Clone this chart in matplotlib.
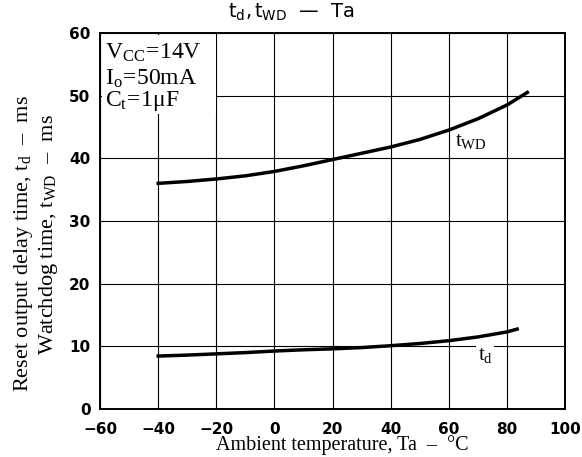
import matplotlib
matplotlib.use('Agg')
import matplotlib.pyplot as plt
from matplotlib.patches import Rectangle

plt.rcParams['mathtext.fontset'] = 'custom'
plt.rcParams['mathtext.rm'] = 'Liberation Serif'
plt.rcParams['mathtext.it'] = 'Liberation Serif:italic'
plt.rcParams['mathtext.sf'] = 'DejaVu Sans'

# curve data
ta_wd = [-40, -30, -20, -10, 0, 10, 20, 30, 40, 50, 60, 70, 80, 87]
t_wd = [36.0, 36.3, 36.7, 37.2, 37.9, 38.8, 39.8, 40.8, 41.8, 43.0, 44.5, 46.3, 48.5, 50.5]

ta_d = [-40, -30, -20, -10, 0, 10, 20, 30, 40, 50, 60, 70, 80, 83.5]
t_d = [8.45, 8.6, 8.8, 9.0, 9.25, 9.45, 9.6, 9.8, 10.1, 10.45, 10.9, 11.5, 12.3, 12.75]

xticks = [-60, -40, -20, 0, 20, 40, 60, 80, 100]
yticks = [0, 10, 20, 30, 40, 50, 60]

fig = plt.figure(figsize=(5.82, 4.57), dpi=100)
ax = fig.add_axes([0.172, 0.105, 0.799, 0.823])

ax.set_xlim(-60, 100)
ax.set_ylim(0, 60)
ax.set_xticks(xticks)
ax.set_yticks(yticks)
ax.tick_params(axis='x', length=0, pad=9)
ax.tick_params(axis='y', length=0, pad=7)
for lab in ax.get_xticklabels() + ax.get_yticklabels():
    lab.set_fontsize(11)
    lab.set_fontweight('bold')
    lab.set_family('DejaVu Sans')
ax.grid(True, color='black', lw=0.8, zorder=1)
ax.set_axisbelow(True)
for sp in ax.spines.values():
    sp.set_linewidth(1.4)

# blank the grid behind the condition box
ax.add_patch(Rectangle((-59.5, 47), 39.3, 12.7, facecolor='white', edgecolor='none', zorder=1.5))

ax.plot(ta_wd, t_wd, color='black', lw=2.5, zorder=3)
ax.plot(ta_d, t_d, color='black', lw=2.5, zorder=3)

serif = 'Liberation Serif'
ax.text(-58.3, 58.6, r'$\mathregular{V_{CC}\!=\!14V}$', family=serif, fontsize=17, va='top', zorder=4)
ax.text(-58.3, 54.5, r'$\mathregular{I_o\!=\!50mA}$', family=serif, fontsize=17, va='top', zorder=4)
ax.text(-58.3, 51.0, r'$\mathregular{C_t\!=\!1\mu F}$', family=serif, fontsize=17, va='top', zorder=4)

ax.text(67.5, 42.6, r'$\mathregular{t_{WD}}$', family=serif, fontsize=15, ha='center', va='center', zorder=4)
ax.text(72.5, 8.6, r'$\mathregular{t_d}$', family=serif, fontsize=15, ha='center', va='center', zorder=4,
        bbox=dict(facecolor='white', edgecolor='none', pad=1))

fig.text(0.5, 0.972, r'$\mathsf{t_d,t_{WD}}$  —  Ta', family='DejaVu Sans', fontsize=14,
         ha='center', va='center')
fig.text(0.588, 0.004, 'Ambient temperature, Ta  –  °C', family=serif, fontsize=14.5,
         ha='center', va='bottom')
fig.text(0.040, 0.468, r'Reset output delay time, $\mathregular{t_d}$  –  ms', family=serif,
         fontsize=16, rotation=90, ha='center', va='center')
fig.text(0.083, 0.486, r'Watchdog time, $\mathregular{t_{WD}}$  –  ms', family=serif,
         fontsize=16, rotation=90, ha='center', va='center')

fig.savefig('out.png', dpi=100)
